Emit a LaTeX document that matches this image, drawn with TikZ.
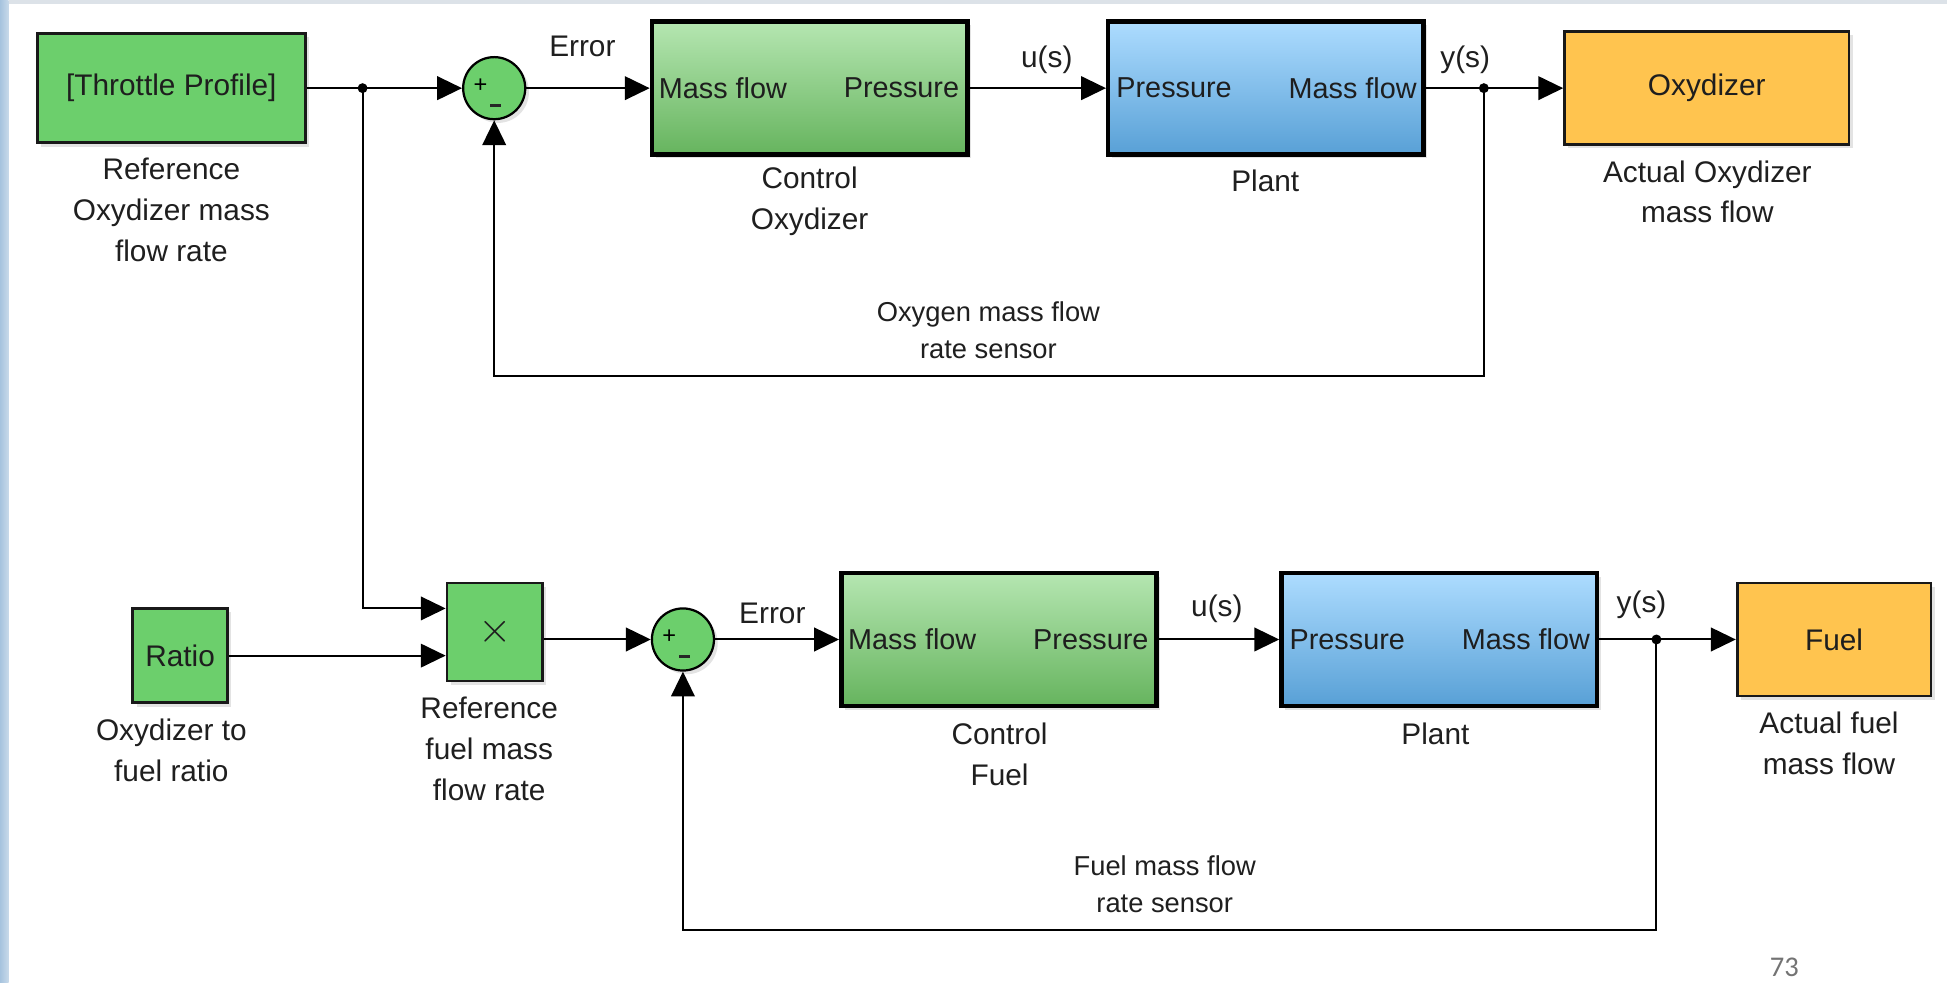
\documentclass[tikz,border=0pt]{standalone}
\usepackage{fontspec}
\setmainfont{Liberation Sans}
\newfontfamily\pagefont{Carlito}
\usetikzlibrary{arrows.meta,shadows,calc}
\definecolor{simgreen}{HTML}{6CCF6C}
\definecolor{ctltop}{HTML}{B5E6B1}
\definecolor{ctlbot}{HTML}{66B45E}
\definecolor{plttop}{HTML}{ADDCFF}
\definecolor{pltbot}{HTML}{58A0D6}
\definecolor{simorange}{HTML}{FFC44F}
\definecolor{boxtext}{HTML}{1E1E1E}
\definecolor{striptop}{HTML}{DCE2E8}
\definecolor{stripl}{HTML}{A6C3DE}
\definecolor{stripr}{HTML}{C9DAEA}
\begin{document}
\begin{tikzpicture}[x=0.5pt,y=-0.5pt,
  font=\fontsize{12}{16.5}\selectfont,
  conn/.style={line width=0.8pt},
  arr/.style={conn,-{Triangle[length=10pt,width=9.5pt]}},
  shad/.style={drop shadow={opacity=0.22,shadow xshift=1.5pt,shadow yshift=-1.5pt}},
  srcbox/.style={draw=black!90,line width=1.1pt,fill=simgreen,inner sep=0pt,shad,text=boxtext},
  outbox/.style={draw=black!90,line width=1.1pt,fill=simorange,inner sep=0pt,shad,text=boxtext},
  ctlbox/.style={draw=black,line width=1.8pt,top color=ctltop,bottom color=ctlbot,inner sep=0pt,shad,minimum width=127pt,minimum height=53.5pt},
  pltbox/.style={draw=black,line width=1.8pt,top color=plttop,bottom color=pltbot,inner sep=0pt,shad,minimum width=127pt,minimum height=53.5pt},
  sumc/.style={circle,draw=black,line width=0.9pt,fill=simgreen,minimum size=25pt,inner sep=0pt,shad},
  dot/.style={circle,fill=black,inner sep=0pt,minimum size=4pt},
  port/.style={text=boxtext,inner sep=0pt,font=\fontsize{11.6}{14}\selectfont},
  lbl/.style={align=center,text=black!88},
  slbl/.style={align=center,text=black!88,font=\fontsize{11}{15}\selectfont},
  sig/.style={text=black!88},
  sgn/.style={inner sep=0pt,text=black,font=\fontsize{9.5}{9.5}\selectfont},
  mns/.style={line width=1.2pt,black!85}
]
\useasboundingbox (0,0) rectangle (1568,791);
\fill[white] (0,0) rectangle (1568,791);
\shade[left color=stripl,right color=stripr] (0,0) rectangle (7,791);
\fill[striptop] (7,0) rectangle (1568,3);

% ---------- top loop ----------
\node[srcbox,minimum width=108pt,minimum height=44pt] (thr) at (138,71) {[Throttle Profile]};
\node[lbl] (thrlab) at (138,169) {Reference\\Oxydizer mass\\flow rate};
\node[sumc] (s1) at (398,71) {};
\node[sgn] (s1p) at ([shift={(-5.5pt,1pt)}]s1.center) {+};
\draw[mns] ([shift={(-1.5pt,-7pt)}]s1.center) -- ([shift={(2.8pt,-7pt)}]s1.center);
\node[ctlbox] (c1) at (652,71) {};
\node[port,anchor=west] (c1in) at ([xshift=3.5pt]c1.west) {Mass flow};
\node[port,anchor=east] (c1out) at ([xshift=-4pt]c1.east) {Pressure};
\node[lbl] (c1lab) at (652,162.5) {Control\\Oxydizer};
\node[pltbox] (p1) at (1019.5,71) {};
\node[port,anchor=west] (p1in) at ([xshift=4pt]p1.west) {Pressure};
\node[port,anchor=east] (p1out) at ([xshift=-3.5pt]p1.east) {Mass flow};
\node[lbl] (p1lab) at (1019,146) {Plant};
\node[outbox,minimum width=114.5pt,minimum height=45.5pt] (ox) at (1374.5,71) {Oxydizer};
\node[lbl] (oxlab) at (1375,154.5) {Actual Oxydizer\\mass flow};
\node[dot] (j1) at (292,71) {};
\node[dot] (j2) at (1195,71) {};
\coordinate (fb1) at (1195,303);

\node[sig] (e1) at (469,37) {Error};
\node[sig] (u1) at (843,48) {u(s)};
\node[sig] (y1) at (1180,48) {y(s)};
\node[slbl] (sens1) at (796,266) {Oxygen mass flow\\rate sensor};

\draw[arr] (thr.east) -- (s1.west);
\draw[arr] (s1.east) -- (c1.west);
\draw[arr] (c1.east) -- (p1.west);
\draw[arr] (p1.east) -- (ox.west);
\draw[arr] (j2.center) -- (fb1) -| (s1.south);

% ---------- bottom loop ----------
\node[srcbox,minimum width=38pt,minimum height=38pt] (rat) at (145,528) {Ratio};
\node[lbl] (ratlab) at (138,604) {Oxydizer to\\fuel ratio};
\node[srcbox,minimum width=38.5pt,minimum height=39.5pt] (mul) at (398.5,509) {\fontsize{19}{19}\selectfont$\times$};
\node[lbl] (mullab) at (394,603) {Reference\\fuel mass\\flow rate};
\node[sumc] (s2) at (550,515) {};
\node[sgn] (s2p) at ([shift={(-5.5pt,1pt)}]s2.center) {+};
\draw[mns] ([shift={(-1.5pt,-7pt)}]s2.center) -- ([shift={(2.8pt,-7pt)}]s2.center);
\node[ctlbox] (c2) at (804.5,515) {};
\node[port,anchor=west] (c2in) at ([xshift=3.5pt]c2.west) {Mass flow};
\node[port,anchor=east] (c2out) at ([xshift=-4pt]c2.east) {Pressure};
\node[lbl] (c2lab) at (805,607.5) {Control\\Fuel};
\node[pltbox] (p2) at (1159,515) {};
\node[port,anchor=west] (p2in) at ([xshift=4pt]p2.west) {Pressure};
\node[port,anchor=east] (p2out) at ([xshift=-3.5pt]p2.east) {Mass flow};
\node[lbl] (p2lab) at (1156,591) {Plant};
\node[outbox,minimum width=78pt,minimum height=45.5pt] (fuel) at (1477,515) {Fuel};
\node[lbl] (fuellab) at (1473,598.5) {Actual fuel\\mass flow};
\node[dot] (j3) at (1334,515) {};
\coordinate (fb2) at (1334,749);

\node[sig] (e2) at (622,494) {Error};
\node[sig] (u2) at (980,490) {u(s)};
\node[sig] (y2) at (1322,487) {y(s)};
\node[slbl] (sens2) at (938,712) {Fuel mass flow\\rate sensor};

\draw[arr] (j1.center) |- ([yshift=9.5pt]mul.west);
\draw[arr] (rat.east) -- ([yshift=-9.5pt]mul.west);
\draw[arr] (mul.east |- s2.west) -- (s2.west);
\draw[arr] (s2.east) -- (c2.west);
\draw[arr] (c2.east) -- (p2.west);
\draw[arr] (p2.east) -- (fuel.west);
\draw[arr] (j3.center) -- (fb2) -| (s2.south);

\node[text=black!55,font=\pagefont\fontsize{11.5}{11.5}\selectfont] (pg) at (1437,779) {73};
\end{tikzpicture}
\end{document}
